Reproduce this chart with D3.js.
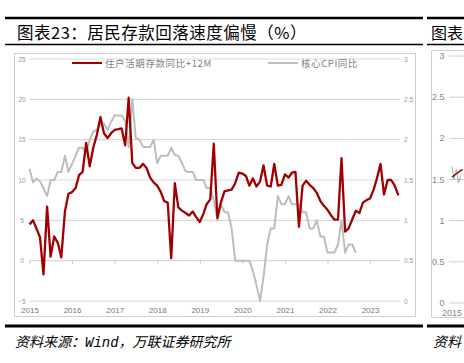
<!DOCTYPE html>
<html lang="zh">
  <head>
    <meta charset="utf-8" />
    <title>居民存款回落速度偏慢</title>
    <script src="https://cdn.jsdelivr.net/npm/d3@7"></script>
    <style>
      body { margin: 0; background: #fff; }
      svg { display: block; }
    </style>
  </head>
  <body>
    <svg id="chart" width="464" height="363"></svg>
    <script>
      // 住户活期存款同比+12M (left axis, %), monthly from 2015-01
      const depositYoY = [
        4.5, 5.0, 4.0, 2.9, -1.7, 6.7, 0.5, 3.0, 2.2, 0.4, 6.1, 8.3,
        8.5, 9.0, 10.6, 11.0, 14.6, 11.7, 14.0, 15.6, 17.8, 15.8, 15.2, 15.8,
        16.2, 16.3, 16.4, 14.3, 20.2, 12.1, 11.5, 11.5, 12.0, 11.5, 10.3, 9.7,
        9.3, 8.5, 7.4, 7.2, 0.3, 9.6, 6.6, 6.2, 5.9, 5.6, 6.1, 5.4,
        4.8, 5.8, 7.0, 7.6, 14.5, 5.3, 7.2, 8.6, 8.7, 8.8, 9.6, 10.9,
        10.8, 10.5, 9.3, 10.2, 9.2, 9.8, 11.8, 9.3, 9.2, 12.0, 9.3, 9.4,
        10.7, 10.3, 10.9, 11.0, 4.2, 9.3, 9.9, 9.4, 9.0, 8.4, 7.4, 6.8,
        6.3, 5.6, 5.1, 5.1, 12.7, 3.6, 4.0, 5.1, 6.2, 5.9, 7.2, 7.5,
        7.7, 8.8, 10.2, 12.0, 8.2, 10.0, 10.0, 9.3, 8.1
      ];
      // 核心CPI同比 (right axis, %), monthly from 2015-01
      const coreCPI = [
        1.64, 1.47, 1.52, 1.48, 1.40, 1.30, 1.5, 1.5, 1.6, 1.6, 1.8, 1.6,
        1.7, 1.8, 1.9, 1.9, 1.83, 2.0, 2.1, 2.12, 2.2, 2.2, 2.12, 2.22,
        2.3, 2.3, 2.3, 2.23, 1.91, 2.5, 2.02, 2.0, 1.91, 1.91, 1.91, 2.0,
        1.71, 1.8, 1.8, 1.8, 1.9, 1.81, 1.8, 1.71, 1.61, 1.6, 1.6, 1.5,
        1.5, 1.5, 1.4, 1.4, 1.25, 1.0, 1.2, 1.1, 1.1, 0.9, 0.5, 0.5,
        0.5, 0.5, 0.5, 0.37, 0.2, 0.0, 0.3, 0.7, 0.9, 0.9, 1.3, 1.2,
        1.2, 1.3, 1.2, 1.2, 1.2, 1.1, 1.1, 0.9, 0.9, 1.0, 0.8, 0.8,
        0.6, 0.6, 0.6, 0.7, 1.0, 0.6, 0.7, 0.7, 0.6
      ];
      const leftTicks = [-5, 0, 5, 10, 15, 20, 25];
      const rightTicks = [0, 0.5, 1, 1.5, 2, 2.5, 3];
      const seriesNames = ["住户活期存款同比+12M", "核心CPI同比"];

      // the next chart, cut off at the right edge
      const nextRed = [1.53, 1.55, 1.57, 1.59, 1.61, 1.62];
      const nextGray = [1.66, 1.5, 1.62, 1.46, 1.55];
      const nextTicks = ["0", "0.5", "1", "1.5", "2", "2.5", "3"];

      const red = "#a00000";
      const gray = "#bdbdbd";
      const cjk = "'Noto Sans CJK SC', 'Noto Sans', sans-serif";

      const svg = d3.select("#chart");
      const month = (i) => new Date(2015, i, 1);

      // frame lines
      const rules = [
        { y: 18, w: 2.5 },
        { y: 44.5, w: 1.5 },
        { y: 326, w: 3 }
      ];
      rules.forEach((r) => {
        [[5, 423], [427, 464]].forEach(([a, b]) => {
          svg.append("line")
            .attr("x1", a).attr("x2", b)
            .attr("y1", r.y).attr("y2", r.y)
            .attr("stroke", "#000")
            .attr("stroke-width", r.w);
        });
      });

      svg.append("text")
        .attr("x", 17).attr("y", 39)
        .attr("font-family", cjk)
        .attr("font-size", "16.5px")
        .attr("letter-spacing", "0.5px")
        .text("图表23：居民存款回落速度偏慢（%）");
      svg.append("text")
        .attr("x", 431).attr("y", 39)
        .attr("font-family", cjk)
        .attr("font-size", "16px")
        .text("图表");

      const source = svg.append("text")
        .attr("x", 15).attr("y", 347)
        .attr("font-family", cjk)
        .attr("font-size", "14px")
        .attr("font-style", "italic");
      source.append("tspan").text("资料来源：");
      source.append("tspan")
        .attr("font-family", "'Liberation Mono', monospace")
        .text("Wind");
      source.append("tspan").text("，万联证券研究所");
      svg.append("text")
        .attr("x", 433).attr("y", 347)
        .attr("font-family", cjk)
        .attr("font-size", "14px")
        .attr("font-style", "italic")
        .text("资料");

      // main panel
      svg.append("rect")
        .attr("x", 14.5).attr("y", 53.5)
        .attr("width", 401).attr("height", 263)
        .attr("fill", "none")
        .attr("stroke", "#cfcfcf");

      const xScale = d3.scaleTime()
        .domain([new Date(2015, 0, 1), new Date(2023, 8, 15)])
        .range([29.5, 400]);
      const yLeft = d3.scaleLinear().domain([-5, 25]).range([301, 59]);
      const yRight = d3.scaleLinear().domain([0, 3]).range([301, 59]);

      svg.append("g")
        .selectAll("line")
        .data(leftTicks)
        .enter()
        .append("line")
        .attr("x1", 29.5).attr("x2", 400)
        .attr("y1", (d) => yLeft(d)).attr("y2", (d) => yLeft(d))
        .attr("stroke", "#d9d9d9")
        .attr("stroke-width", 1.2);

      // year ticks on the zero line
      const zeroAxis = svg.append("g")
        .attr("transform", `translate(0, ${yLeft(0)})`)
        .call(d3.axisBottom(xScale).ticks(d3.timeYear.every(1)).tickSize(3).tickFormat(""));
      zeroAxis.select(".domain").remove();
      zeroAxis.selectAll("line").attr("stroke", "#c8c8c8");

      const xAxis = svg.append("g")
        .attr("transform", "translate(0, 304)")
        .call(d3.axisBottom(xScale).ticks(d3.timeYear.every(1)).tickSize(0).tickPadding(3)
          .tickFormat(d3.timeFormat("%Y")));
      xAxis.select(".domain").remove();
      xAxis.selectAll("text")
        .attr("fill", "#777")
        .style("font-family", "'Liberation Sans', Arial, sans-serif")
        .style("font-size", "8px");

      const yAxisL = svg.append("g")
        .attr("transform", "translate(22, 0)")
        .call(d3.axisLeft(yLeft).tickValues(leftTicks).tickSize(0).tickPadding(0));
      yAxisL.select(".domain").remove();
      yAxisL.selectAll("text")
        .attr("x", 0)
        .attr("text-anchor", "middle")
        .attr("fill", "#999")
        .style("font-family", "'Liberation Sans', Arial, sans-serif")
        .style("font-size", "6.5px");

      const yAxisR = svg.append("g")
        .attr("transform", "translate(404, 0)")
        .call(d3.axisRight(yRight).tickValues(rightTicks).tickSize(0).tickPadding(0)
          .tickFormat((d) => String(d)));
      yAxisR.select(".domain").remove();
      yAxisR.selectAll("text")
        .attr("fill", "#999")
        .style("font-family", "'Liberation Sans', Arial, sans-serif")
        .style("font-size", "6.5px");

      const lineL = d3.line()
        .x((d, i) => xScale(month(i)))
        .y((d) => yLeft(d));
      const lineR = d3.line()
        .x((d, i) => xScale(month(i)))
        .y((d) => yRight(d));

      svg.append("path")
        .attr("d", lineR(coreCPI))
        .attr("fill", "none")
        .attr("stroke", gray)
        .attr("stroke-width", 2)
        .attr("stroke-linejoin", "round");
      svg.append("path")
        .attr("d", lineL(depositYoY))
        .attr("fill", "none")
        .attr("stroke", red)
        .attr("stroke-width", 2.3)
        .attr("stroke-linejoin", "round");

      // legend
      const legend = svg.append("g");
      [
        { name: seriesNames[0], color: red, x: 72 },
        { name: seriesNames[1], color: gray, x: 268 }
      ].forEach((item) => {
        legend.append("line")
          .attr("x1", item.x).attr("x2", item.x + 30)
          .attr("y1", 63).attr("y2", 63)
          .attr("stroke", item.color)
          .attr("stroke-width", 2);
        legend.append("text")
          .attr("x", item.x + 33).attr("y", 66.5)
          .attr("font-family", cjk)
          .attr("font-size", "9.5px")
          .attr("letter-spacing", "0.6px")
          .attr("fill", "#808080")
          .text(item.name);
      });

      // next panel (partially visible)
      svg.append("rect")
        .attr("x", 431.5).attr("y", 50.5)
        .attr("width", 40).attr("height", 267)
        .attr("fill", "none")
        .attr("stroke", "#cfcfcf");
      const yNext = d3.scaleLinear().domain([0, 3]).range([303, 56]);
      const xNext = d3.scaleLinear().domain([0, 6]).range([452, 465]);
      svg.append("g")
        .selectAll("line")
        .data(nextTicks)
        .enter()
        .append("line")
        .attr("x1", 449).attr("x2", 464)
        .attr("y1", (d) => yNext(+d)).attr("y2", (d) => yNext(+d))
        .attr("stroke", "#cfcfcf");
      svg.append("g")
        .selectAll("text")
        .data(nextTicks)
        .enter()
        .append("text")
        .attr("x", 444.5).attr("y", (d) => yNext(+d) + 3)
        .attr("text-anchor", "end")
        .attr("fill", "#888")
        .attr("font-family", "'Liberation Sans', Arial, sans-serif")
        .attr("font-size", "9px")
        .text((d) => d);
      svg.append("text")
        .attr("x", 452).attr("y", 315.5)
        .attr("text-anchor", "middle")
        .attr("fill", "#888")
        .attr("font-family", "'Liberation Sans', Arial, sans-serif")
        .attr("font-size", "9px")
        .text("2015");
      svg.append("path")
        .attr("d", d3.line().x((d, i) => xNext(i)).y((d) => yNext(d))(nextGray))
        .attr("fill", "none")
        .attr("stroke", "#aaa")
        .attr("stroke-width", 1);
      svg.append("path")
        .attr("d", d3.line().x((d, i) => xNext(i)).y((d) => yNext(d))(nextRed))
        .attr("fill", "none")
        .attr("stroke", red)
        .attr("stroke-width", 1.5);
    </script>
  </body>
</html>
